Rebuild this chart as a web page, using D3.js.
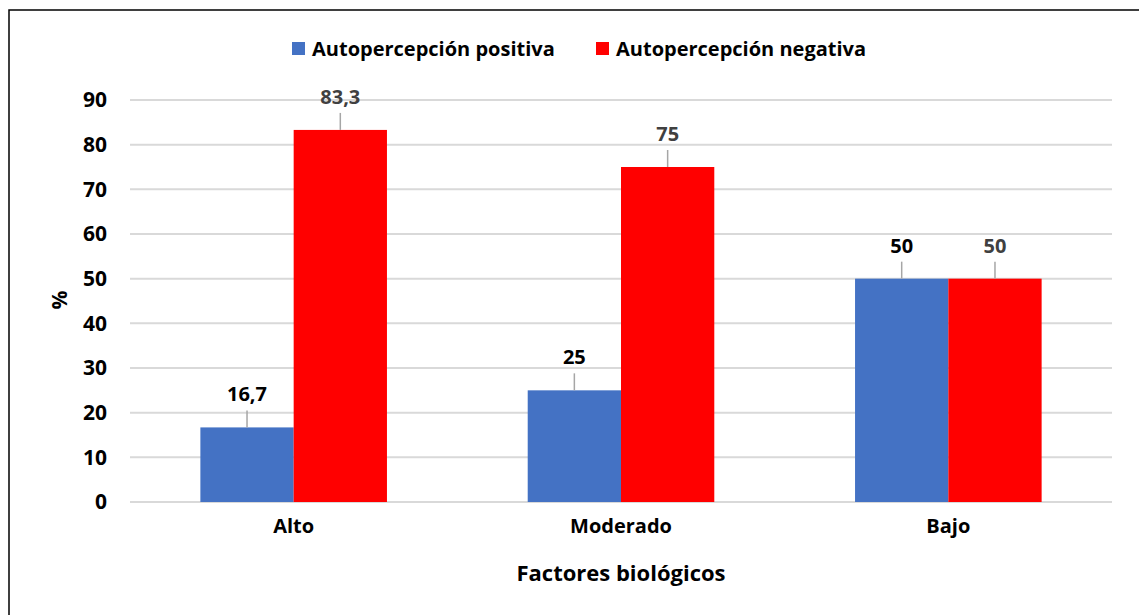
<!DOCTYPE html>
<html>
<head>
<meta charset="utf-8">
<script src="https://cdn.jsdelivr.net/npm/d3@7"></script>
<style>
  body { margin: 0; background: #fff; }
  text { font-family: "Open Sans", Lato, sans-serif; font-weight: bold; }
</style>
</head>
<body>
<div id="chart"></div>
<script>
var svgWidth = 1139;
var svgHeight = 615;

// data
var categories = ["Alto", "Moderado", "Bajo"];
var seriesNames = ["Autopercepción positiva", "Autopercepción negativa"];
var positiva = [16.7, 25, 50];
var negativa = [83.3, 75, 50];
var yTicks = [0, 10, 20, 30, 40, 50, 60, 70, 80, 90];

var colors = ["#4472c4", "#ff0000"];
var labelColors = ["#000000", "#404040"];

var plot = { left: 130, right: 1112, top: 100, bottom: 502 };
var fontFam = "'Open Sans', Lato, sans-serif";

var svg = d3.select("#chart")
  .append("svg")
  .attr("width", svgWidth)
  .attr("height", svgHeight);

// outer frame
svg.append("rect")
  .attr("x", 9)
  .attr("y", 10)
  .attr("width", svgWidth + 10)
  .attr("height", svgHeight + 10)
  .attr("fill", "none")
  .attr("stroke", "#000")
  .attr("stroke-width", 1.5);

var xScale = d3.scaleBand()
  .domain(categories)
  .range([plot.left, plot.right])
  .paddingInner(0.43)
  .paddingOuter(0.215);

var xSub = d3.scaleBand()
  .domain(d3.range(seriesNames.length))
  .range([0, xScale.bandwidth()])
  .padding(0);

var yScale = d3.scaleLinear()
  .domain([0, 90])
  .range([plot.bottom, plot.top]);

// gridlines
svg.append("g")
  .selectAll("line")
  .data(yTicks)
  .enter()
  .append("line")
  .attr("x1", plot.left)
  .attr("x2", plot.right)
  .attr("y1", d => yScale(d))
  .attr("y2", d => yScale(d))
  .attr("stroke", "#d9d9d9")
  .attr("stroke-width", 2);

// y axis labels
var leftAxis = d3.axisLeft(yScale).tickValues(yTicks).tickSize(0).tickPadding(0);
var yAxisG = svg.append("g")
  .attr("transform", `translate(107, 0)`)
  .call(leftAxis);
yAxisG.select(".domain").remove();
yAxisG.selectAll("text")
  .attr("font-size", 21)
  .attr("fill", "#000")
  .style("font-family", fontFam);

// x axis labels
var bottomAxis = d3.axisBottom(xScale).tickSize(0).tickPadding(0);
var xAxisG = svg.append("g")
  .attr("transform", `translate(0, 519)`)
  .call(bottomAxis);
xAxisG.select(".domain").remove();
xAxisG.selectAll("text")
  .attr("font-size", 20)
  .attr("fill", "#000")
  .style("font-family", fontFam);

var series = [positiva, negativa];
var barData = [];
categories.forEach(function(cat, i) {
  series.forEach(function(vals, s) {
    barData.push({ cat: cat, s: s, value: vals[i] });
  });
});

// bars
svg.append("g")
  .selectAll("rect")
  .data(barData)
  .enter()
  .append("rect")
  .attr("x", d => xScale(d.cat) + xSub(d.s))
  .attr("y", d => yScale(d.value))
  .attr("width", xSub.bandwidth())
  .attr("height", d => plot.bottom - yScale(d.value))
  .attr("fill", d => colors[d.s]);

// leader lines
svg.append("g")
  .selectAll("line")
  .data(barData)
  .enter()
  .append("line")
  .attr("x1", d => xScale(d.cat) + xSub(d.s) + xSub.bandwidth() / 2)
  .attr("x2", d => xScale(d.cat) + xSub(d.s) + xSub.bandwidth() / 2)
  .attr("y1", d => yScale(d.value))
  .attr("y2", d => yScale(d.value) - 17)
  .attr("stroke", "#a6a6a6")
  .attr("stroke-width", 1.5);

// value labels
svg.append("g")
  .selectAll("text")
  .data(barData)
  .enter()
  .append("text")
  .attr("x", d => xScale(d.cat) + xSub(d.s) + xSub.bandwidth() / 2)
  .attr("y", d => yScale(d.value) - 26)
  .attr("text-anchor", "middle")
  .attr("font-size", 20)
  .attr("fill", d => labelColors[d.s])
  .text(d => String(d.value).replace(".", ","));

// legend
var legendX = [292, 596];
var legend = svg.append("g");
seriesNames.forEach(function(name, s) {
  legend.append("rect")
    .attr("x", legendX[s])
    .attr("y", 42)
    .attr("width", 13)
    .attr("height", 13)
    .attr("fill", colors[s]);
  legend.append("text")
    .attr("x", legendX[s] + 20)
    .attr("y", 56)
    .attr("font-size", 20)
    .attr("fill", "#000")
    .text(name);
});

// axis titles
svg.append("text")
  .attr("transform", "translate(67, 300) rotate(-90)")
  .attr("text-anchor", "middle")
  .attr("font-size", 21)
  .attr("fill", "#000")
  .text("%");

svg.append("text")
  .attr("x", (plot.left + plot.right) / 2)
  .attr("y", 581)
  .attr("text-anchor", "middle")
  .attr("font-size", 22)
  .attr("fill", "#000")
  .text("Factores biológicos");
</script>
</body>
</html>
